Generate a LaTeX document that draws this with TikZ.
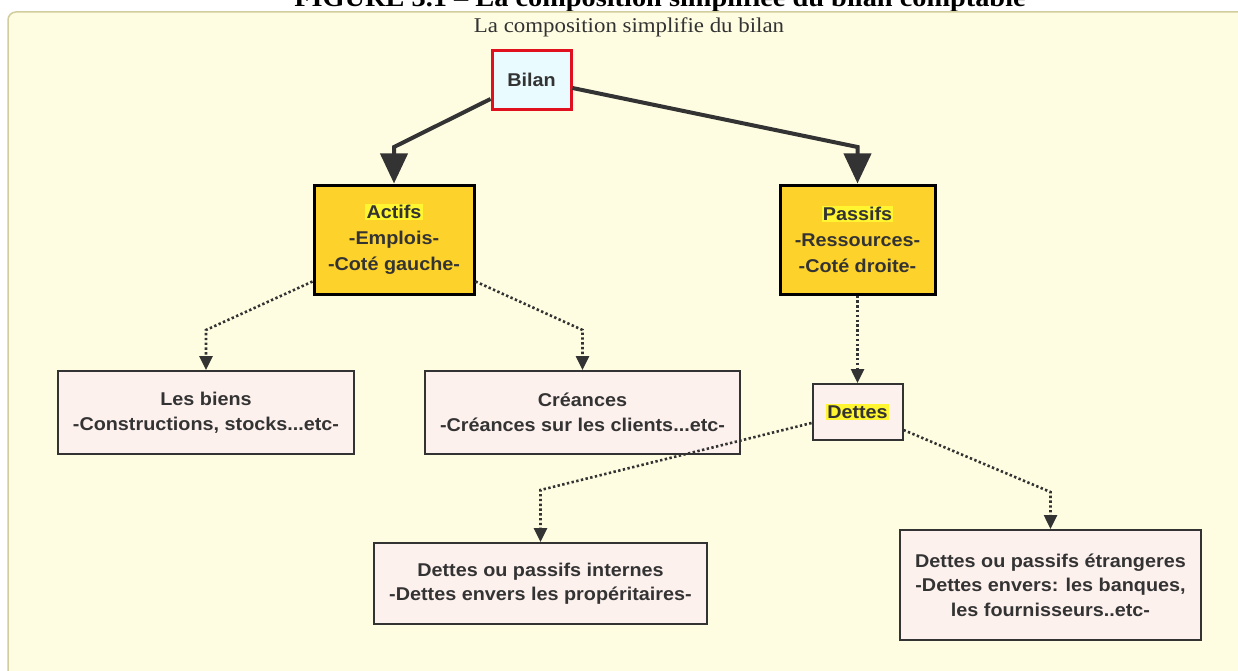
\documentclass[tikz,border=0pt]{standalone}
\usepackage{fontspec}
\setmainfont{Liberation Serif}[FakeStretch=1.09]
\setsansfont{Liberation Sans}[FakeStretch=1.07]
\usetikzlibrary{arrows.meta}
\definecolor{panelbg}{HTML}{FFFDE1}
\definecolor{panelline}{HTML}{D2CD9C}
\definecolor{gold}{HTML}{FDD22B}
\definecolor{pinkfill}{HTML}{FDF1EE}
\definecolor{bilanfill}{HTML}{E9FBFF}
\definecolor{bilanred}{HTML}{E0101F}
\definecolor{ink}{HTML}{333333}
\definecolor{hlyellow}{HTML}{FFF531}
\newcommand{\hlt}[1]{{\setlength{\fboxsep}{1.2pt}\colorbox{hlyellow}{#1}}}
\tikzset{
  basebox/.style={draw=ink, text=ink, font=\sffamily\bfseries\fontsize{18.5}{24.5}\selectfont, align=center, inner sep=0pt},
  mainbox/.style={basebox, fill=gold, draw=black, line width=3pt, font=\sffamily\bfseries\fontsize{18.5}{26}\selectfont},
  subbox/.style={basebox, fill=pinkfill, line width=2pt},
  bilanbox/.style={basebox, fill=bilanfill, draw=bilanred, line width=3pt},
  bigconn/.style={draw=ink, line width=4pt, -{Triangle[length=30pt,width=27pt]}},
  dotconn/.style={draw=ink, line width=2.6pt, dash pattern=on 2.4pt off 2.4pt, -{Triangle[length=14pt,width=13pt]}}
}
\begin{document}
\begin{tikzpicture}[x=1pt,y=-1pt]
\useasboundingbox (0,0) rectangle (1238,671);
\clip (0,0) rectangle (1238,671);
\fill[white] (0,0) rectangle (1238,671);
% cropped figure title
\node[anchor=base, inner sep=0pt, font=\rmfamily\bfseries\fontsize{26}{30}\selectfont] (figtitle) at (660,7) {FIGURE 3.1 -- La composition simplifiée du bilan comptable};
% panel
\path[fill=panelbg, draw=panelline, line width=1.5pt, rounded corners=8pt] (8,700) -- (8,12) -- (1260,12) -- (1260,700);
\node[anchor=base, inner sep=0pt, text=ink, font=\rmfamily\fontsize{21}{24}\selectfont] (caption) at (629,33) {La composition simplifie du bilan};
% nodes
\node[bilanbox, minimum width=79pt, minimum height=59pt] (bilan) at (531.5,80) {Bilan};
\node[mainbox, minimum width=160pt, minimum height=109pt] (actifs) at (394,239.5) {\hlt{Actifs}\\-Emplois-\\-Coté gauche-};
\node[mainbox, minimum width=155pt, minimum height=109pt] (passifs) at (857.5,239.5) {\hlt{Passifs}\\-Ressources-\\-Coté droite-};
\node[subbox, minimum width=296pt, minimum height=83pt] (biens) at (206,412.5) {Les biens\\-Constructions, stocks...etc-};
\node[subbox, minimum width=315pt, minimum height=83pt] (creances) at (582.5,412.5) {Créances\\-Créances sur les clients...etc-};
\node[subbox, minimum width=90pt, minimum height=56pt] (dettes) at (857.5,412) {\hlt{Dettes}};
\node[subbox, minimum width=333pt, minimum height=81pt] (internes) at (540.5,583.5) {Dettes ou passifs internes\\-Dettes envers les propéritaires-};
\node[subbox, minimum width=301pt, minimum height=110pt] (etrangeres) at (1050.5,585) {Dettes ou passifs étrangeres\\-Dettes envers: les banques,\\les fournisseurs..etc-};
% connectors
\draw[bigconn] ([yshift=-19pt]bilan.west) -- (actifs.north |- 0,147) -- (actifs.north);
\draw[bigconn] ([yshift=-8pt]bilan.east) -- (passifs.north |- 0,147) -- (passifs.north);
\draw[dotconn] ([yshift=-42pt]actifs.west) -- (biens.north |- 0,330) -- (biens.north);
\draw[dotconn] ([yshift=-42pt]actifs.east) -- (creances.north |- 0,330) -- (creances.north);
\draw[dotconn] (passifs.south) -- (dettes.north);
\draw[dotconn] ([yshift=-11pt]dettes.west) -- (internes.north |- 0,490) -- (internes.north);
\draw[dotconn] ([yshift=-18pt]dettes.east) -- (etrangeres.north |- 0,492) -- (etrangeres.north);
\end{tikzpicture}
\end{document}
